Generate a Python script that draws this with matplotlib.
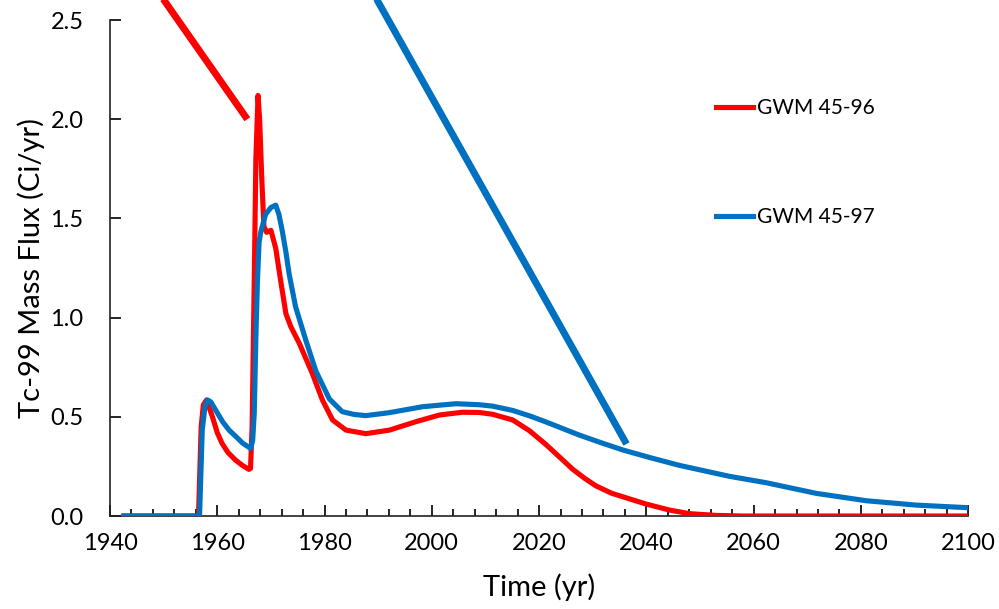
import matplotlib.pyplot as plt
from matplotlib.ticker import MultipleLocator

# ---------------- data ----------------
years_96 = [1942.6, 1956.5, 1957.0, 1957.4, 1958.0, 1959.1, 1960.0, 1960.9, 1962.0,
            1963.4, 1964.7, 1965.9, 1966.2, 1966.5, 1966.9, 1967.2, 1967.6, 1967.9,
            1968.3, 1968.7, 1969.2, 1970.0, 1970.9, 1971.8, 1972.8, 1973.7, 1975.3,
            1977.7, 1979.6, 1981.5, 1984.0, 1987.7, 1992.1, 1997.0, 2001.4, 2005.7,
            2008.8, 2011.3, 2015.1, 2018.2, 2021.3, 2026.3, 2028.5, 2030.6, 2033.5,
            2036.2, 2040.0, 2044.3, 2048.0, 2053.0, 2058.0, 2100.0]
flux_96 = [0.0, 0.0, 0.45, 0.56, 0.585, 0.50, 0.42, 0.366, 0.32,
           0.282, 0.255, 0.235, 0.24, 0.45, 1.19, 1.8, 2.12, 2.0,
           1.7, 1.46, 1.43, 1.44, 1.35, 1.19, 1.02, 0.955, 0.87,
           0.72, 0.585, 0.484, 0.433, 0.415, 0.433, 0.475, 0.509, 0.523,
           0.522, 0.513, 0.484, 0.43, 0.36, 0.235, 0.19, 0.152, 0.115,
           0.092, 0.06, 0.03, 0.012, 0.003, 0.0, 0.0]

years_97 = [1942.6, 1956.7, 1957.2, 1957.7, 1958.2, 1958.8, 1959.7, 1961.0, 1962.2,
            1963.5, 1964.7, 1966.2, 1966.6, 1966.9, 1967.2, 1967.5, 1967.8, 1968.1,
            1969.0, 1970.0, 1970.9, 1971.5, 1972.1, 1972.8, 1973.4, 1974.6, 1976.5,
            1978.4, 1980.9, 1983.3, 1985.5, 1987.7, 1992.1, 1998.3, 2004.5, 2008.8,
            2011.3, 2015.1, 2018.2, 2021.3, 2027.5, 2031.5, 2035.6, 2040.6, 2046.2,
            2055.5, 2062.3, 2071.7, 2081.0, 2090.3, 2099.9]
flux_97 = [0.0, 0.0, 0.433, 0.55, 0.585, 0.575, 0.534, 0.475, 0.433,
           0.40, 0.368, 0.341, 0.38, 0.52, 0.9, 1.19, 1.38, 1.43,
           1.52, 1.555, 1.567, 1.52, 1.44, 1.33, 1.22, 1.055, 0.887,
           0.73, 0.59, 0.526, 0.512, 0.506, 0.521, 0.551, 0.566, 0.561,
           0.554, 0.532, 0.505, 0.474, 0.408, 0.37, 0.333, 0.295, 0.255,
           0.20, 0.168, 0.114, 0.077, 0.055, 0.042]

# callout lines drawn over the chart
callout_96_x = [1949.3, 1965.6]
callout_96_y = [2.63, 2.0]
callout_97_x = [1989.2, 2036.3]
callout_97_y = [2.63, 0.363]

labels = ["GWM 45-96", "GWM 45-97"]
red = "#FF0000"
blue = "#0070C0"

plt.rcParams['font.family'] = ['Lato', 'DejaVu Sans']

fig = plt.figure(figsize=(9.99, 6.09), dpi=100)
ax = fig.add_axes([0.1101, 0.1527, 0.859, 0.8144])

ax.plot(years_96, flux_96, color=red, lw=3.7, label=labels[0], solid_joinstyle='round', zorder=3)
ax.plot(years_97, flux_97, color=blue, lw=3.7, label=labels[1], solid_joinstyle='round', zorder=4)

ax.plot(callout_96_x, callout_96_y, color=red, lw=5, clip_on=False, solid_capstyle='butt', zorder=5)
ax.plot(callout_97_x, callout_97_y, color=blue, lw=5, clip_on=False, solid_capstyle='butt', zorder=5)

ax.set_xlim(1940, 2100)
ax.set_ylim(0, 2.5)
ax.xaxis.set_major_locator(MultipleLocator(20))
ax.xaxis.set_minor_locator(MultipleLocator(4))
ax.yaxis.set_major_locator(MultipleLocator(0.5))
ax.yaxis.set_major_formatter(lambda v, p: f"{v:.1f}")

ax.tick_params(axis='x', which='major', direction='in', length=8, width=1.2, pad=12, labelsize=17)
ax.tick_params(axis='x', which='minor', direction='in', length=5, width=1.2)
ax.tick_params(axis='y', which='major', direction='in', length=8, width=1.2, pad=19, labelsize=17)

for s in ['top', 'right']:
    ax.spines[s].set_visible(False)
for s in ['left', 'bottom']:
    ax.spines[s].set_linewidth(1.2)
    ax.spines[s].set_color('#222222')

ax.set_xlabel("Time (yr)", fontsize=21, labelpad=14)
ax.set_ylabel("Tc-99 Mass Flux (Ci/yr)", fontsize=21, labelpad=4)

ax.legend(loc='upper left', bbox_to_anchor=(0.684, 0.88), frameon=False, fontsize=15,
          handlelength=1.8, handletextpad=0.2, labelspacing=4.25)

fig.savefig("out.png", dpi=100)
